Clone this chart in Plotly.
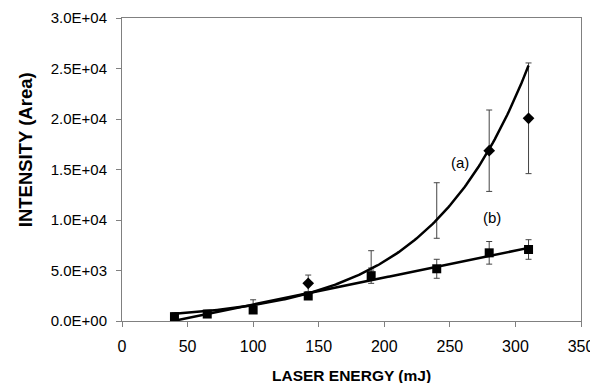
import numpy as np
import plotly.graph_objects as go

# Laser energy (mJ)
energy = [40, 65, 100, 142, 190, 240, 280, 310]

# Series (a) - diamonds
intensity_a = [620, 900, 1450, 3730, 6000, 10940, 16860, 20070]
err_a = [200, 150, 650, 820, 960, 2750, 4030, 5480]

# Series (b) - squares
intensity_b = [430, 690, 1090, 2475, 4490, 5170, 6750, 7080]
err_b = [150, 200, 250, 300, 760, 940, 1120, 970]

y_tickvals = [0, 5000, 10000, 15000, 20000, 25000, 30000]
y_ticktext = ["0.0E+00", "5.0E+03", "1.0E+04", "1.5E+04", "2.0E+04", "2.5E+04", "3.0E+04"]
x_tickvals = [0, 50, 100, 150, 200, 250, 300, 350]

# styling: which diamond markers are visible in the reference
diamond_shown = [False, False, False, True, False, False, True, True]

FONT = "Liberation Sans, Arial"

x_arr = np.array(energy, dtype=float)
xs = np.linspace(min(energy), max(energy), 200)

# exponential trendline for (a)
k, lnA = np.polyfit(x_arr, np.log(np.array(intensity_a, dtype=float)), 1)
fit_a = np.exp(lnA) * np.exp(k * xs)

# linear trendline for (b)
m, c = np.polyfit(x_arr, np.array(intensity_b, dtype=float), 1)
fit_b = m * xs + c

fig = go.Figure()

# error bars of (a)
fig.add_trace(go.Scatter(
    x=energy, y=intensity_a, mode="markers",
    marker=dict(size=1, color="rgba(0,0,0,0)"),
    error_y=dict(type="data", array=err_a, visible=True, color="#444444", thickness=1, width=3),
    showlegend=False, hoverinfo="skip"))

# visible diamond markers of (a)
xa = [x for x, s in zip(energy, diamond_shown) if s]
ya = [y for y, s in zip(intensity_a, diamond_shown) if s]
fig.add_trace(go.Scatter(
    x=xa, y=ya, mode="markers",
    marker=dict(symbol="diamond", size=9, color="black"),
    showlegend=False))

fig.add_trace(go.Scatter(
    x=energy, y=intensity_b, mode="markers",
    marker=dict(symbol="square", size=9, color="black"),
    error_y=dict(type="data", array=err_b, visible=True, color="#444444", thickness=1, width=3),
    showlegend=False))

fig.add_trace(go.Scatter(x=xs, y=fit_b, mode="lines",
                         line=dict(color="black", width=2.5), showlegend=False, hoverinfo="skip"))
fig.add_trace(go.Scatter(x=xs, y=fit_a, mode="lines",
                         line=dict(color="black", width=2.5), showlegend=False, hoverinfo="skip"))

fig.add_annotation(x=258, y=15670, text="(a)", showarrow=False,
                   font=dict(family=FONT, size=15, color="black"))
fig.add_annotation(x=282, y=10270, text="(b)", showarrow=False,
                   font=dict(family=FONT, size=15, color="black"))

# axis titles
fig.add_annotation(xref="paper", yref="paper", x=0.5, y=-0.180, yanchor="middle",
                   text="<b>LASER ENERGY (mJ)</b>", showarrow=False,
                   font=dict(family=FONT, size=15.5, color="black"))
fig.add_annotation(xref="paper", yref="paper", x=-0.211, xanchor="center",
                   y=0.564, yanchor="middle", textangle=-90,
                   text="<b>INTENSITY (Area)</b>", showarrow=False,
                   font=dict(family=FONT, size=18.5, color="black"))

axis_common = dict(showgrid=False, zeroline=False, showline=True, linecolor="#808080",
                   linewidth=1, mirror=True, ticks="outside", ticklen=5, tickcolor="#808080",
                   automargin=False, ticklabelstandoff=6)

fig.update_xaxes(range=[0, 350], tickvals=x_tickvals,
                 tickfont=dict(family=FONT, size=16, color="black"), **axis_common)
fig.update_yaxes(range=[0, 30000], tickvals=y_tickvals, ticktext=y_ticktext,
                 tickfont=dict(family=FONT, size=15, color="black"), **axis_common)

# the page body adds an 8px offset, so the figure is 8px smaller than the window
fig.update_layout(width=590, height=375, margin=dict(l=114, r=17, t=10, b=62),
                  plot_bgcolor="white", paper_bgcolor="white",
                  font=dict(family=FONT, color="black"))

fig.write_html("out.html")
